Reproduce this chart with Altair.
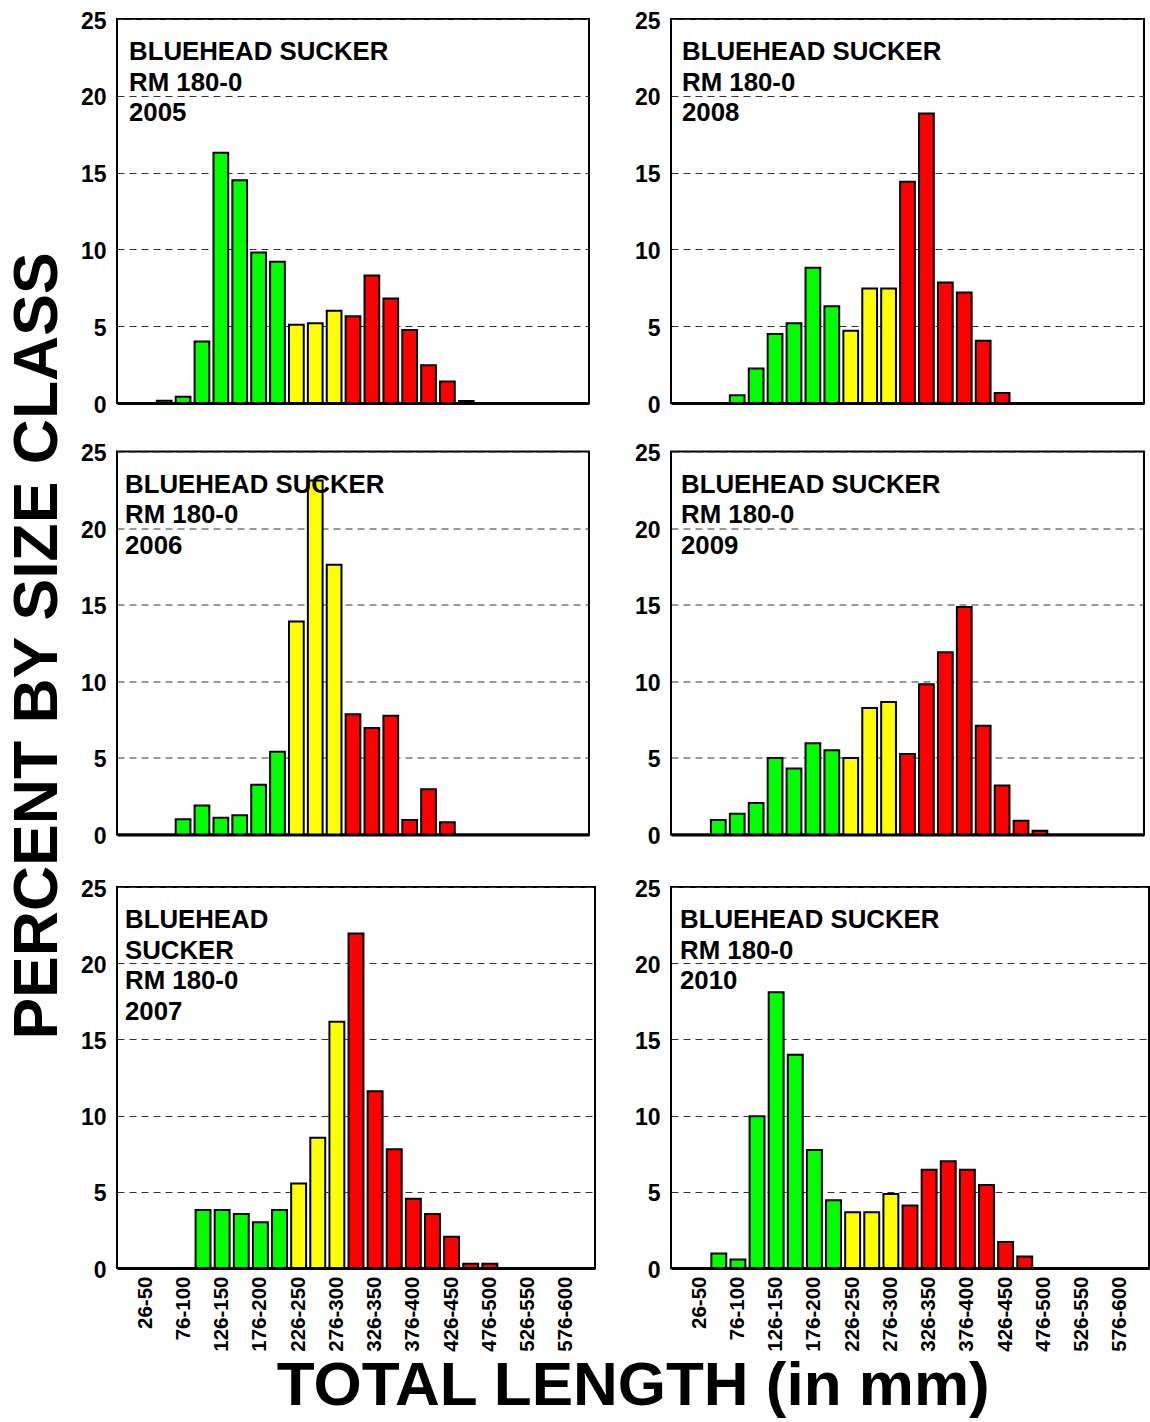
import altair as alt
import pandas as pd

FONT = "Liberation Sans"

CLASSES = ["1-25", "26-50", "51-75", "76-100", "101-125", "126-150", "151-175",
           "176-200", "201-225", "226-250", "251-275", "276-300", "301-325",
           "326-350", "351-375", "376-400", "401-425", "426-450", "451-475",
           "476-500", "501-525", "526-550", "551-575", "576-600", "601-625"]
LABELED = ["26-50", "76-100", "126-150", "176-200", "226-250", "276-300",
           "326-350", "376-400", "426-450", "476-500", "526-550", "576-600"]
GROUPS = (["small"] * 9) + (["medium"] * 3) + (["large"] * 13)

PCT_2005 = [0, 0, 0.15, 0.4, 4.0, 16.3, 14.5, 9.8, 9.2, 5.1, 5.2, 6.0, 5.65,
            8.3, 6.8, 4.75, 2.45, 1.4, 0.13, 0, 0, 0, 0, 0, 0]
PCT_2006 = [0, 0, 0, 1.0, 1.9, 1.1, 1.25, 3.25, 5.4, 13.9, 23.1, 17.6, 7.85,
            6.95, 7.75, 0.95, 2.95, 0.8, 0, 0, 0, 0, 0, 0, 0]
PCT_2007 = [0, 0, 0, 0, 3.8, 3.8, 3.55, 3.0, 3.8, 5.55, 8.55, 16.15, 21.95,
            11.6, 7.8, 4.55, 3.55, 2.05, 0.28, 0.28, 0, 0, 0, 0, 0]
PCT_2008 = [0, 0, 0, 0.5, 2.25, 4.5, 5.2, 8.8, 6.3, 4.7, 7.45, 7.45, 14.4,
            18.85, 7.85, 7.2, 4.05, 0.65, 0, 0, 0, 0, 0, 0, 0]
PCT_2009 = [0, 0, 0.95, 1.35, 2.05, 5.0, 4.3, 5.95, 5.5, 5.0, 8.25, 8.65, 5.25,
            9.8, 11.9, 14.85, 7.1, 3.2, 0.9, 0.25, 0, 0, 0, 0, 0]
PCT_2010 = [0, 0, 0.95, 0.55, 9.95, 18.1, 14.0, 7.75, 4.45, 3.65, 3.65, 4.85,
            4.1, 6.45, 7.0, 6.45, 5.45, 1.7, 0.75, 0, 0, 0, 0, 0, 0]

LINES_2005 = ["BLUEHEAD SUCKER", "RM 180-0", "2005"]
LINES_2006 = ["BLUEHEAD SUCKER", "RM 180-0", "2006"]
LINES_2007 = ["BLUEHEAD", "SUCKER", "RM 180-0", "2007"]
LINES_2008 = ["BLUEHEAD SUCKER", "RM 180-0", "2008"]
LINES_2009 = ["BLUEHEAD SUCKER", "RM 180-0", "2009"]
LINES_2010 = ["BLUEHEAD SUCKER", "RM 180-0", "2010"]

Y_TITLE = "PERCENT BY SIZE CLASS"
X_TITLE = "TOTAL LENGTH (in mm)"


def panel(pct, lines, width, height, row, text_x):
    df = pd.DataFrame({"cls": CLASSES, "pct": pct, "grp": GROUPS})
    bottom = row == 2
    xaxis = alt.Axis(values=LABELED, labels=bottom, labelAngle=270,
                     labelFontSize=20.5, labelFont=FONT, labelFontWeight="bold",
                     labelColor="black", labelPadding=8, ticks=False,
                     domain=True, domainWidth=3, domainColor="black",
                     grid=False, title=None, minExtent=(18 if row == 1 else 0))
    yaxis = alt.Axis(values=[0, 5, 10, 15, 20, 25], labelFontSize=23, labelFont=FONT,
                     labelFontWeight="bold", labelColor="black", labelPadding=11,
                     labelOffset=2, ticks=False, domain=False, grid=True,
                     gridColor="#333333", gridDash=[7, 5], gridWidth=1, title=None)
    bars = alt.Chart(df).transform_filter("datum.pct > 0").mark_bar(
        stroke="black", strokeWidth=2
    ).encode(
        x=alt.X("cls:N", sort=CLASSES,
                scale=alt.Scale(domain=CLASSES, paddingInner=0.22, paddingOuter=0.11),
                axis=xaxis),
        y=alt.Y("pct:Q", scale=alt.Scale(domain=[0, 25], nice=False), axis=yaxis),
        color=alt.Color("grp:N",
                        scale=alt.Scale(domain=["small", "medium", "large"],
                                        range=["#00ff00", "#ffff00", "#ff0000"]),
                        legend=None),
    )
    txt = alt.Chart(pd.DataFrame({"t": [0]})).mark_text(
        text=lines, align="left", baseline="alphabetic", font=FONT,
        fontSize=25.8, fontWeight="bold", lineHeight=30.5, color="black"
    ).encode(x=alt.value(text_x), y=alt.value(41))
    return alt.layer(bars, txt).properties(
        width=width, height=height,
        view=alt.ViewBackground(stroke="black", strokeWidth=2),
    )


p05 = panel(PCT_2005, LINES_2005, 472, 384, 0, 12)
p08 = panel(PCT_2008, LINES_2008, 473, 384, 0, 11)
p06 = panel(PCT_2006, LINES_2006, 472, 383, 1, 8)
p09 = panel(PCT_2009, LINES_2009, 473, 383, 1, 10)
p07 = panel(PCT_2007, LINES_2007, 478, 381, 2, 8)
p10 = panel(PCT_2010, LINES_2010, 478, 381, 2, 9)

row1 = alt.hconcat(p05, p08, spacing=43)
row2 = alt.hconcat(p06, p09, spacing=43)
row3 = alt.hconcat(p07, p10, spacing=37)
grid = alt.vconcat(row1, row2, row3, spacing=23.5)

ytitle = alt.Chart(pd.DataFrame({"t": [0]})).mark_text(
    text=Y_TITLE, angle=270, align="center", baseline="alphabetic", font=FONT,
    fontSize=62.5, fontWeight="bold", color="black"
).encode(x=alt.value(56), y=alt.value(627)).properties(width=70, height=1200)

chart = alt.hconcat(ytitle, grid, spacing=7).properties(
    title=alt.TitleParams(X_TITLE, orient="bottom", anchor="middle", fontSize=62,
                          font=FONT, fontWeight="bold", color="black", dx=58,
                          offset=4),
    padding={"left": 0, "top": 9, "right": 0, "bottom": 0},
    background="white",
).configure_view(stroke="transparent")

chart.save("out.html", embed_options={"renderer": "svg", "actions": False})
